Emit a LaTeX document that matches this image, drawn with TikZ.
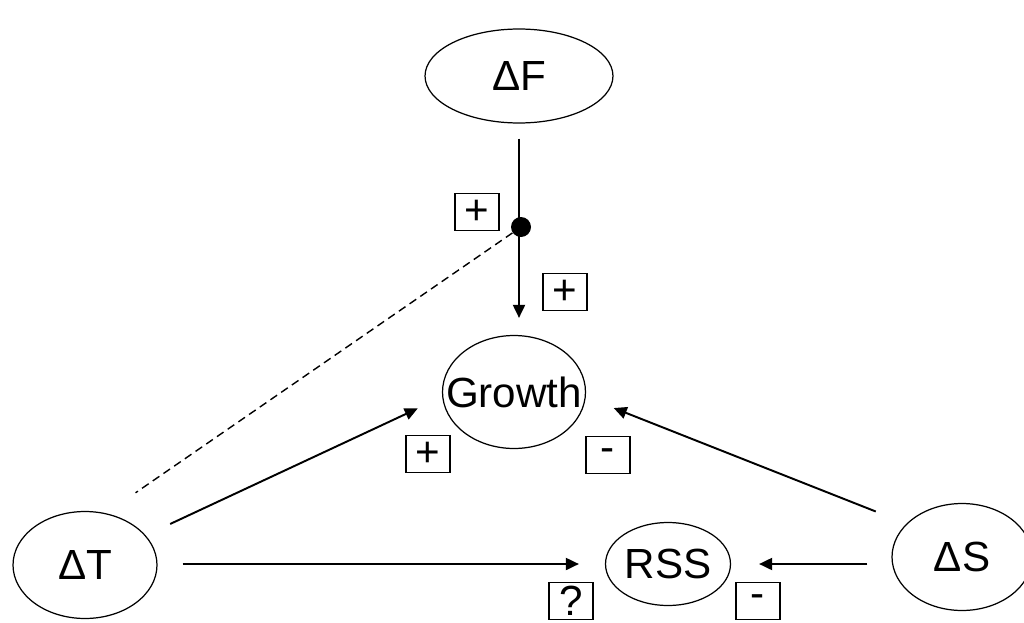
\documentclass[tikz,border=0pt]{standalone}
\usepackage{fontspec}
\setmainfont{Liberation Sans}
\usetikzlibrary{arrows.meta, shapes.geometric}

\begin{document}
\begin{tikzpicture}[x=0.02cm, y=-0.02cm,
        every node/.style={font=\fontsize{24}{28}\selectfont},
        factor/.style={draw, ellipse, inner xsep=-0.35cm, inner ysep=0pt, line width=0.7pt},
        sign/.style={draw, rectangle, inner sep=0pt, minimum width=0.88cm, minimum height=0.74cm,
            line width=0.7pt, font=\fontsize{24}{28}\selectfont},
        link/.style={line width=1.1pt, -{Triangle[length=2.6mm, width=2.4mm]}}]

        \useasboundingbox (0,0) rectangle (1024,622);

        % the five factors
        \node[factor, minimum width=3.76cm, minimum height=1.88cm] (dF) at (519,76) {ΔF};
        \node[factor, minimum width=2.86cm, minimum height=2.26cm] (gr) at (514,392) {Growth};
        \node[factor, minimum width=2.88cm, minimum height=2.14cm] (dT) at (85,565) {ΔT};
        \node[factor, minimum width=2.5cm, minimum height=1.66cm] (rss) at (668,564) {RSS};
        \node[factor, minimum width=2.8cm, minimum height=2.14cm] (dS) at (962,557) {ΔS};

        \node[circle, fill, inner sep=0pt, minimum size=0.4cm] (dot) at (521,227) {};

        % links
        \draw[link, shorten <=0.3cm, shorten >=0.34cm] (dF.south) -- (dF.south |- gr.north);
        \draw[line width=0.8pt, dash pattern=on 0.16cm off 0.1cm, shorten >=0.72cm] (dot) -- (dT.68);
        \draw[link, shorten <=0.54cm, shorten >=0.54cm] (dT.26) -- (gr.184);
        \draw[link, shorten <=0.5cm, shorten >=0.52cm] (rss.west -| dT.east) -- (rss.west);
        \draw[link, shorten <=0.66cm, shorten >=0.6cm] (dS.149) -- (gr.356);
        \draw[link, shorten <=0.48cm, shorten >=0.56cm] (rss.east -| dS.west) -- (rss.east);

        % signs
        \node[sign] (s1) at (477,212) {+};
        \node[sign] (s2) at (565,292) {+};
        \node[sign] (s3) at (428,454) {+};
        \node[sign] (s4) at (608,455) {-};
        \node[sign] (s5) at (571,601) {?};
        \node[sign] (s6) at (758,601) {-};

    \end{tikzpicture}
\end{document}
